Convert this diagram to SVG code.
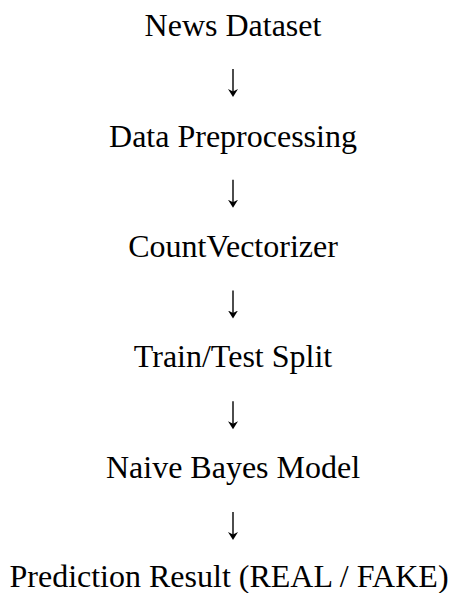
<svg xmlns="http://www.w3.org/2000/svg" width="456" height="593" viewBox="0 0 456 593">
<style>
.t{font-family:"Liberation Serif","Times New Roman",serif;font-size:32px;fill:#000;text-anchor:middle}
.c{stroke:#000;stroke-width:1.4;fill:none;marker-end:url(#ah)}
</style>
<defs>
<marker id="ah" markerUnits="userSpaceOnUse" markerWidth="10" markerHeight="11" refX="5" refY="5" orient="auto" viewBox="0 0 10 10">
<path d="M0,0 L8,5 L0,10 L2.5,5 Z" fill="#000"/>
</marker>
</defs>
<rect width="456" height="593" fill="#fff"/>
<g id="n1"><text class="t" x="233" y="36">News Dataset</text></g>
<g id="n2"><text class="t" x="233" y="147">Data Preprocessing</text></g>
<g id="n3"><text class="t" x="233" y="257">CountVectorizer</text></g>
<g id="n4"><text class="t" x="233" y="367">Train/Test Split</text></g>
<g id="n5"><text class="t" x="233" y="478">Naive Bayes Model</text></g>
<g id="n6"><text class="t" x="229" y="587">Prediction Result (REAL / FAKE)</text></g>
<g id="connectors">
<line class="c" x1="233" y1="69" x2="233" y2="94"/>
<line class="c" x1="233" y1="179.75" x2="233" y2="204.75"/>
<line class="c" x1="233" y1="290.5" x2="233" y2="315.5"/>
<line class="c" x1="233" y1="401.25" x2="233" y2="426.25"/>
<line class="c" x1="233" y1="512" x2="233" y2="537"/>
</g>
</svg>
